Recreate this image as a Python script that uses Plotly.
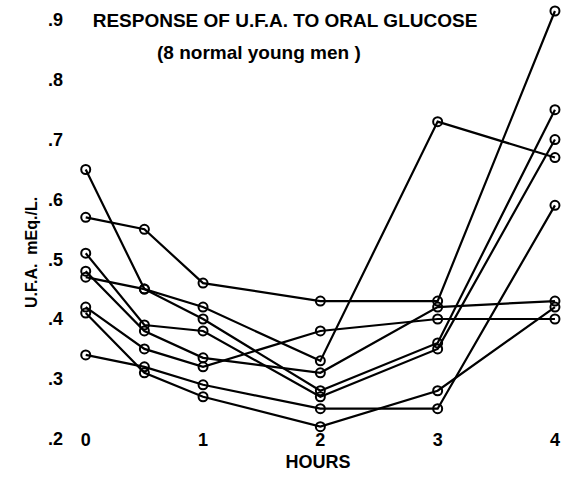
import plotly.graph_objects as go

HOURS = [0, 0.5, 1, 2, 3, 4]
SUBJECTS = [
    [0.65, 0.45, 0.42, 0.33, 0.73, 0.67],
    [0.57, 0.55, 0.46, 0.43, 0.43, 0.915],
    [0.47, 0.45, 0.40, 0.28, 0.36, 0.75],
    [0.51, 0.39, 0.38, 0.27, 0.35, 0.70],
    [0.48, 0.38, 0.335, 0.31, 0.42, 0.43],
    [0.42, 0.35, 0.32, 0.38, 0.40, 0.40],
    [0.41, 0.31, 0.27, 0.22, 0.28, 0.42],
    [0.34, 0.32, 0.29, 0.25, 0.25, 0.59],
]
X_TICKS = [0, 1, 2, 3, 4]
X_TICKTEXT = ["0", "1", "2", "3", "4"]
Y_TICKS = [0.2, 0.3, 0.4, 0.5, 0.6, 0.7, 0.8, 0.9]
Y_TICKTEXT = [".2", ".3", ".4", ".5", ".6", ".7", ".8", ".9"]

FONT = "Liberation Sans"

fig = go.Figure()
for vals in SUBJECTS:
    fig.add_trace(go.Scatter(
        x=HOURS, y=vals, mode="lines+markers",
        line=dict(color="black", width=2.2),
        marker=dict(symbol="circle-open", size=9, color="black", line=dict(width=2)),
        cliponaxis=False, showlegend=False,
    ))

fig.update_layout(
    width=562, height=477,
    margin=dict(l=74, r=0, t=0, b=0),
    paper_bgcolor="white", plot_bgcolor="white",
    font=dict(family=FONT, color="black"),
    title=dict(text="<b>RESPONSE OF U.F.A. TO ORAL GLUCOSE</b>",
               x=285/562, xanchor="center", xref="container",
               y=1-20/477, yanchor="middle", yref="container",
               font=dict(size=19, family=FONT, color="black")),
    xaxis=dict(range=[-0.1, 4.06], domain=[0, 1], anchor="free", position=0.1048,
               tickvals=X_TICKS, ticktext=X_TICKTEXT, showgrid=False, zeroline=False,
               showline=False, ticks="", tickfont=dict(size=18, family=FONT, weight="bold"),
               title=dict(text="<b>HOURS</b>", font=dict(size=18, family=FONT), standoff=6)),
    yaxis=dict(range=[0.1358, 0.9334], domain=[0, 1],
               tickvals=Y_TICKS, ticktext=Y_TICKTEXT, showgrid=False, zeroline=False,
               showline=False, ticks="", ticklabelstandoff=10,
               tickfont=dict(size=18, family=FONT, weight="bold")),
    annotations=[
        dict(text="<b>(8 normal young men )</b>", xref="paper", yref="paper",
             x=(259-74)/488, y=1-52/477, xanchor="center", yanchor="middle",
             showarrow=False, font=dict(size=19, family=FONT)),
        dict(text="<b>U.F.A.  mEq./L.</b>", xref="paper", yref="paper",
             x=(31-74)/488, y=1-253/477, xanchor="center", yanchor="middle",
             textangle=-90, showarrow=False, font=dict(size=16, family=FONT)),
    ],
)

fig.write_html("out.html", config={"displayModeBar": False},
               post_script="document.body.style.margin='0';document.body.style.overflow='hidden';")
